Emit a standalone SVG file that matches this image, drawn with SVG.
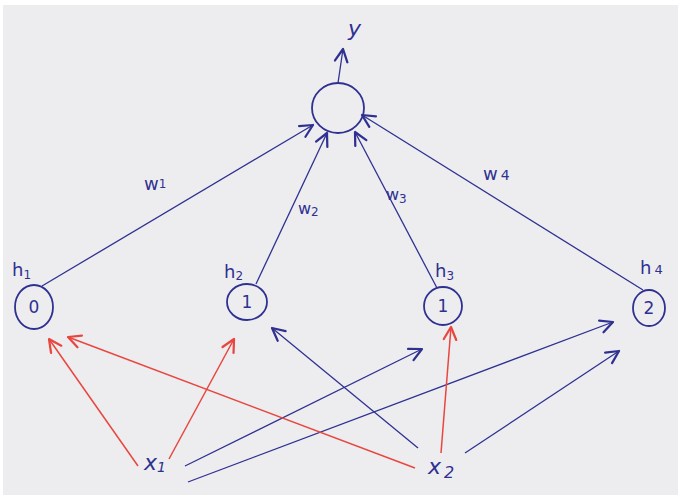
<svg xmlns="http://www.w3.org/2000/svg" width="681" height="498" viewBox="0 0 681 498">
  <defs>
    <marker id="ab" markerUnits="userSpaceOnUse" markerWidth="20" markerHeight="20" refX="0" refY="0" viewBox="-12 -8 14 16" orient="auto" overflow="visible">
      <path d="M -10 -5 L 0 0 L -10 5" fill="none" stroke="#2f3190" stroke-width="1.8" stroke-linecap="round" stroke-linejoin="round"/>
    </marker>
    <marker id="ar" markerUnits="userSpaceOnUse" markerWidth="20" markerHeight="20" refX="0" refY="0" viewBox="-12 -8 14 16" orient="auto" overflow="visible">
      <path d="M -10 -5 L 0 0 L -10 5" fill="none" stroke="#e8463e" stroke-width="1.8" stroke-linecap="round" stroke-linejoin="round"/>
    </marker>
  </defs>
  <style>
    .bg { fill: #ededf0; }
    .node { fill: none; stroke: #2f3190; stroke-width: 1.8; }
    .blue { fill: none; stroke: #2f3190; stroke-width: 1.3; marker-end: url(#ab); }
    .red { fill: none; stroke: #e8463e; stroke-width: 1.5; marker-end: url(#ar); }
    .lbl { font-family: "DejaVu Sans", "Noto Sans", sans-serif; fill: #2f3190; }
    .val { font-family: "DejaVu Sans", "Noto Sans", sans-serif; fill: #2f3190; font-size: 17px; text-anchor: middle; }
  </style>
  <rect x="0" y="0" width="681" height="498" fill="#ffffff"/>
  <rect class="bg" x="3" y="5" width="675" height="490"/>

  <g id="connectors">
    <line class="blue" x1="338" y1="83" x2="343" y2="49"/>
    <line class="blue" x1="42" y1="286" x2="313" y2="125"/>
    <line class="blue" x1="256" y1="284" x2="327" y2="133"/>
    <line class="blue" x1="437" y1="288" x2="355" y2="132"/>
    <line class="blue" x1="643" y1="290" x2="362" y2="115"/>
    <line class="red" x1="138" y1="466" x2="49" y2="339"/>
    <line class="red" x1="169" y1="459" x2="234" y2="339"/>
    <line class="blue" x1="185" y1="466" x2="422" y2="349"/>
    <line class="blue" x1="188" y1="482" x2="613" y2="322"/>
    <line class="red" x1="415" y1="468" x2="68" y2="337"/>
    <line class="blue" x1="418" y1="448" x2="272" y2="328"/>
    <line class="red" x1="441" y1="453" x2="451" y2="327"/>
    <line class="blue" x1="465" y1="453" x2="619" y2="351"/>
  </g>

  <g id="output">
    <ellipse class="node" cx="338" cy="108" rx="26" ry="25"/>
    <text class="lbl" x="348" y="36" font-size="22" font-style="italic">y</text>
  </g>

  <g id="h1">
    <ellipse class="node" cx="34" cy="307" rx="19" ry="22"/>
    <text class="val" x="34" y="313">0</text>
    <text class="lbl" x="12" y="276" font-size="18">h<tspan font-size="12" dy="3">1</tspan></text>
  </g>
  <g id="h2">
    <ellipse class="node" cx="247" cy="302" rx="20" ry="18"/>
    <text class="val" x="247" y="308">1</text>
    <text class="lbl" x="224" y="278" font-size="18">h<tspan font-size="12" dy="2">2</tspan></text>
  </g>
  <g id="h3">
    <ellipse class="node" cx="443" cy="306" rx="19" ry="19"/>
    <text class="val" x="443" y="312">1</text>
    <text class="lbl" x="435" y="277" font-size="18">h<tspan font-size="12" dy="3">3</tspan></text>
  </g>
  <g id="h4">
    <ellipse class="node" cx="649" cy="308" rx="16" ry="18"/>
    <text class="val" x="649" y="314" font-size="15">2</text>
    <text class="lbl" x="640" y="274" font-size="18">h<tspan font-size="13" dx="3">4</tspan></text>
  </g>

  <g id="weights">
    <text class="lbl" x="144" y="190" font-size="18">w<tspan font-size="12" dy="-2">1</tspan></text>
    <text class="lbl" x="298" y="214" font-size="16">w<tspan font-size="12" dy="2">2</tspan></text>
    <text class="lbl" x="386" y="200" font-size="16">w<tspan font-size="12" dy="3">3</tspan></text>
    <text class="lbl" x="483" y="180" font-size="18">w<tspan font-size="14" dx="3">4</tspan></text>
  </g>

  <g id="x1">
    <text class="lbl" x="144" y="470" font-size="22" font-style="italic">x<tspan font-size="14" dy="2">1</tspan></text>
  </g>
  <g id="x2">
    <text class="lbl" x="428" y="474" font-size="22" font-style="italic">x<tspan font-size="16" dx="3" dy="4">2</tspan></text>
  </g>
</svg>
